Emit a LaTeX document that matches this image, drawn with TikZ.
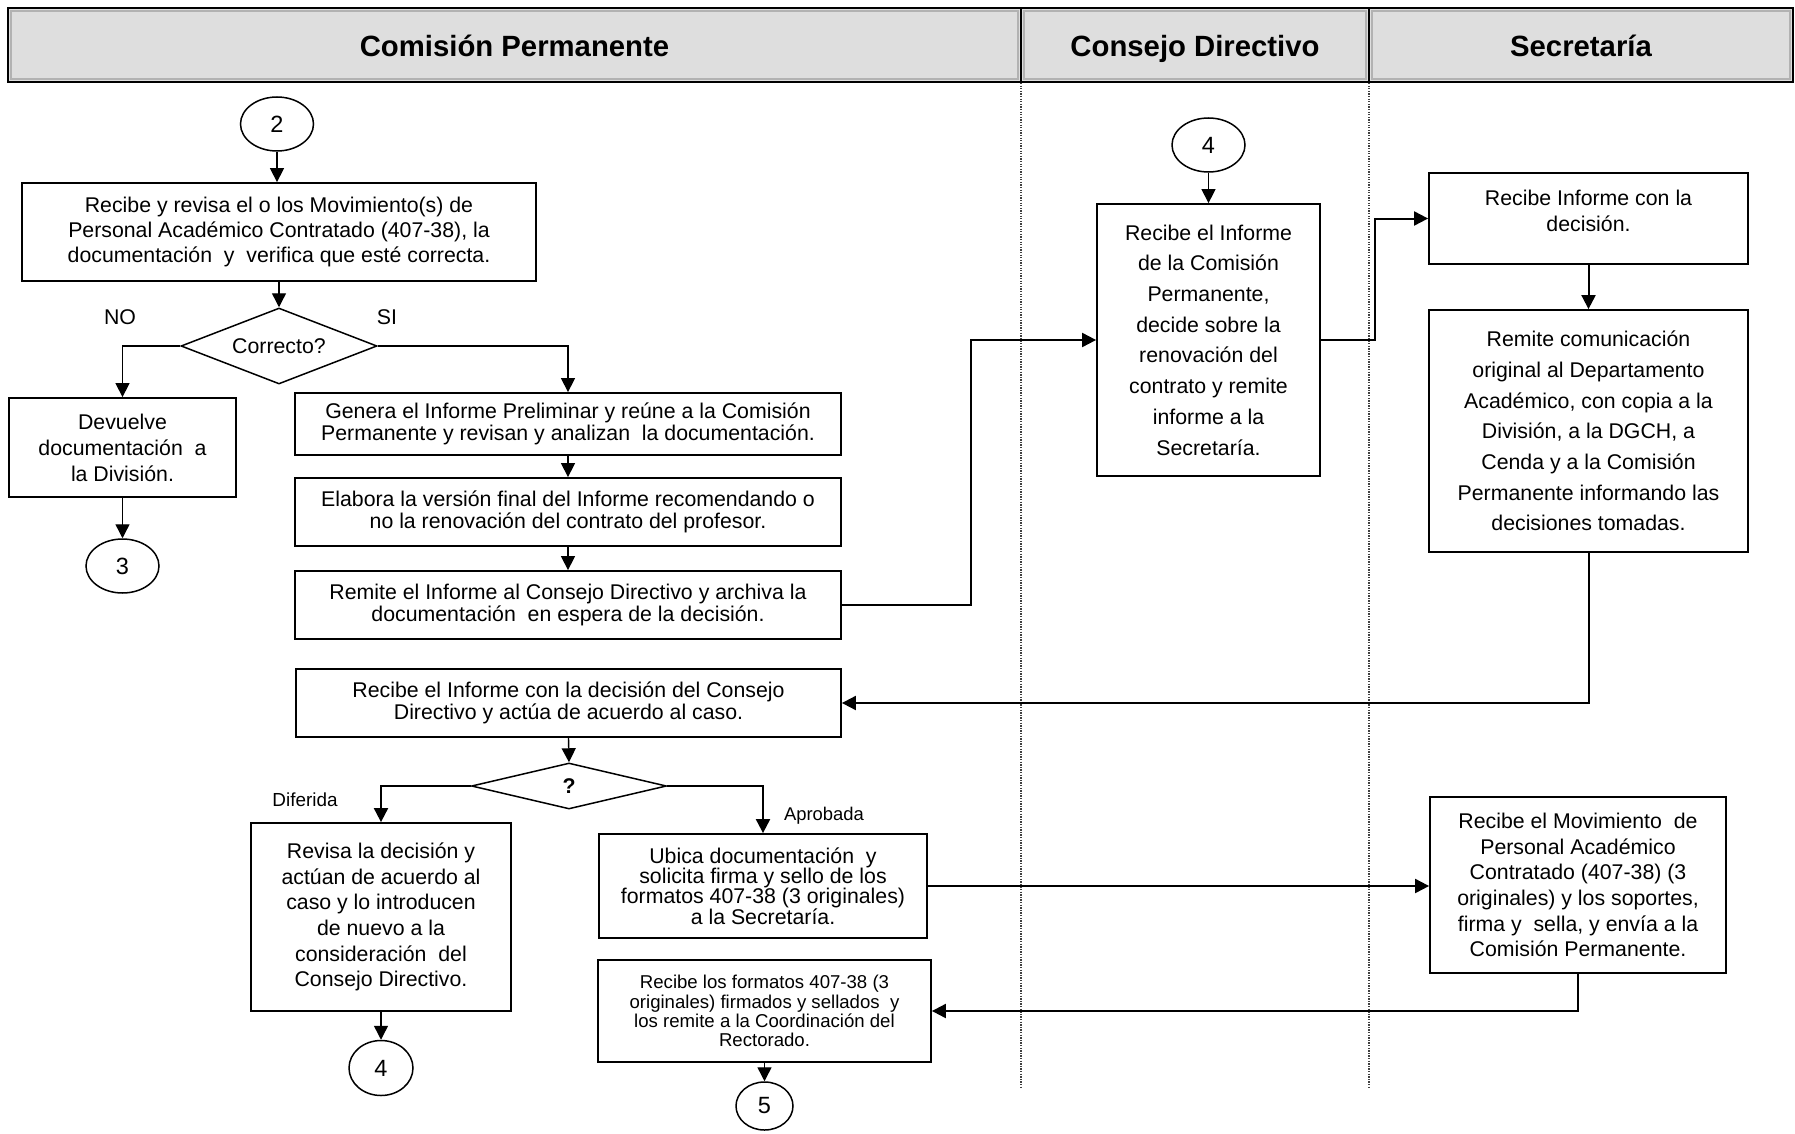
\documentclass[tikz,border=0pt]{standalone}
\usepackage{fontspec}
\setmainfont{Liberation Sans}
\usetikzlibrary{shapes.geometric,arrows.meta}

\begin{document}
\begin{tikzpicture}[x=1pt,y=-1pt,
  box/.style={draw, line width=1.8pt, rectangle, inner sep=0pt, align=center},
  txt/.style={font=\fontsize{21.3pt}{#1}\selectfont},
  small/.style={font=\fontsize{18.6pt}{19.3pt}\selectfont},
  conn/.style={draw, ellipse, line width=1.5pt, inner sep=0pt,
    font=\fontsize{23.5pt}{27pt}\selectfont},
  decision/.style={draw, diamond, line width=1.5pt, inner sep=0pt},
  lbl/.style={inner sep=0pt},
  hdr/.style={font=\bfseries\fontsize{29.3pt}{34pt}\selectfont, inner sep=0pt,
    text height=21pt, text depth=6pt},
  flow/.style={line width=2pt, -{Triangle[length=14pt,width=14pt]}},
  thinflow/.style={line width=1.4pt, -{Triangle[length=14pt,width=14pt]}},
  lane/.style={black!75, line width=1.1pt, dash pattern=on 1.3pt off 1.3pt}
]
\useasboundingbox (0,0) rectangle (1795,1134);

% lane headers
\foreach \xa/\xb in {8/1021, 1021/1369, 1369/1793}{
  \fill[black!13] (\xa,8) rectangle (\xb,82);
  \draw[black!30, line width=1.1pt] (\xa+3,11) rectangle (\xb-3,79);
  \draw[line width=2.2pt] (\xa,8) rectangle (\xb,82);
}
\node[hdr] (hCP) at (514.5,49.5) {Comisión Permanente};
\node[hdr] (hCD) at (1195,49.5) {Consejo Directivo};
\node[hdr] (hSE) at (1581,49.5) {Secretaría};

% lane separators
\draw[lane] (1021,83) -- (1021,1088);
\draw[lane] (1369,83) -- (1369,1088);

% Comisión Permanente
\node[conn, minimum width=73pt, minimum height=54pt] (c2) at (277,124) {2};
\node[box, txt=25pt, minimum width=514pt, minimum height=98pt] (b1) at (279,232)
  {Recibe y revisa el o los Movimiento(s) de\\Personal Académico Contratado (407-38), la\\documentación~ y~ verifica que esté correcta.};
\node[decision, aspect=2.58, minimum width=196pt, minimum height=76pt,
  txt=25pt] (d1) at (279,346) {Correcto?};
\node[lbl, txt=25pt] (lno) at (120,317) {NO};
\node[lbl, txt=25pt] (lsi) at (387,317) {SI};
\node[box, txt=26pt, minimum width=227pt, minimum height=99pt] (dev) at (122.5,447.5)
  {Devuelve\\documentación~ a\\la División.};
\node[conn, minimum width=73pt, minimum height=54pt] (c3) at (122.5,566) {3};
\node[box, txt=22pt, minimum width=546pt, minimum height=62pt] (gen) at (568,424)
  {Genera el Informe Preliminar y reúne a la Comisión\\Permanente y revisan y analizan~ la documentación.};
\node[box, txt=22pt, minimum width=546pt, minimum height=68pt] (ela) at (568,512)
  {Elabora la versión final del Informe recomendando o\\no la renovación del contrato del profesor.};
\node[box, txt=22.5pt, minimum width=546pt, minimum height=68pt] (rem) at (568,605)
  {Remite el Informe al Consejo Directivo y archiva la\\documentación~ en espera de la decisión.};
\node[box, txt=22pt, minimum width=545pt, minimum height=68pt] (rd) at (568.5,703)
  {Recibe el Informe con la decisión del Consejo\\Directivo y actúa de acuerdo al caso.};
\node[decision, aspect=4.2, minimum width=195pt, minimum height=46pt,
  font=\bfseries\fontsize{21.3pt}{25pt}\selectfont] (d2) at (569,786) {?};
\node[lbl, font=\fontsize{18.9pt}{22pt}\selectfont] (ldif) at (305,800) {Diferida};
\node[lbl, font=\fontsize{18.4pt}{22pt}\selectfont] (lapr) at (824,816) {Aprobada};
\node[box, txt=25.7pt, minimum width=260pt, minimum height=188pt] (rev) at (381,917)
  {Revisa la decisión y\\actúan de acuerdo al\\caso y lo introducen\\de nuevo a la\\consideración~ del\\Consejo Directivo.};
\node[conn, minimum width=64pt, minimum height=55pt] (c4b) at (381,1068) {4};
\node[box, txt=20pt, minimum width=328pt, minimum height=104pt] (ubi) at (763,886)
  {Ubica documentación~ y\\solicita firma y sello de los\\formatos 407-38 (3 originales)\\a la Secretaría.};
\node[box, small, minimum width=333pt, minimum height=102pt] (fmt) at (764.5,1011)
  {Recibe los formatos 407-38 (3\\originales) firmados y sellados~ y\\los remite a la Coordinación del\\Rectorado.};
\node[conn, minimum width=57pt, minimum height=48pt] (c5) at (764.5,1106) {5};

% Consejo Directivo
\node[conn, minimum width=73pt, minimum height=54pt] (c4a) at (1208.5,145) {4};
\node[box, txt=30.7pt, minimum width=223pt, minimum height=272pt] (cd) at (1208.5,340)
  {Recibe el Informe\\de la Comisión\\Permanente,\\decide sobre la\\renovación del\\contrato y remite\\informe a la\\Secretaría.};

% Secretaría
\node[box, minimum width=319pt, minimum height=91pt] (s1) at (1588.5,218.5) {};
\node[lbl, txt=25.7pt, align=center] (s1t) at ([yshift=7.5pt]s1.center)
  {Recibe Informe con la\\decisión.};
\node[box, txt=30.7pt, minimum width=319pt, minimum height=242pt] (s2) at (1588.5,431)
  {Remite comunicación\\original al Departamento\\Académico, con copia a la\\División, a la DGCH, a\\Cenda y a la Comisión\\Permanente informando las\\decisiones tomadas.};
\node[box, txt=25.6pt, minimum width=296pt, minimum height=176pt] (mov) at (1578,885)
  {Recibe el Movimiento~ de\\Personal Académico\\Contratado (407-38) (3\\originales) y los soportes,\\firma y~ sella, y envía a la\\Comisión Permanente.};

% connectors
\draw[thinflow] (c2.south) -- (c2.south |- b1.north);
\draw[thinflow] (b1.south) -- (d1.north);
\draw[thinflow] (d1.west) -| (dev.north);
\draw[thinflow] (dev.south) -- (c3.north);
\draw[thinflow] (d1.east) -| (gen.north);
\draw[thinflow] (gen.south) -- (ela.north);
\draw[thinflow] (ela.south) -- (rem.north);
\draw[flow] (rem.east) -- ++(129,0) |- (cd.west);
\draw[thinflow] (c4a.south) -- (cd.north);
\draw[flow] (cd.east) -- ++(54,0) |- (s1.west);
\draw[flow] (s1.south) -- (s2.north);
\draw[flow] (s2.south) |- (rd.east);
\draw[thinflow] (rd.south) -- (d2.north);
\draw[flow] (d2.west) -| (rev.north);
\draw[thinflow] (rev.south) -- (c4b.north);
\draw[flow] (d2.east) -| (ubi.north);
\draw[flow] (ubi.east) -- (ubi.east -| mov.west);
\draw[flow] (mov.south) |- (fmt.east);
\draw[thinflow] (fmt.south) -- (c5.north);
\end{tikzpicture}
\end{document}
